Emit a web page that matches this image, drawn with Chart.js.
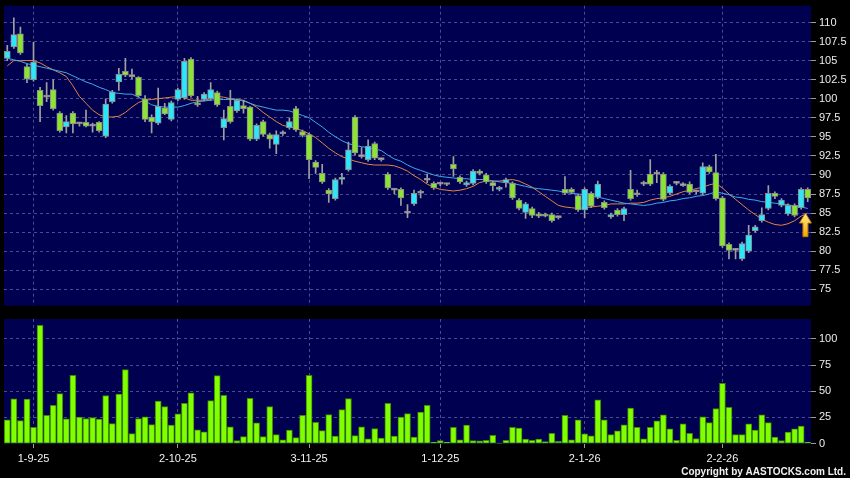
<!DOCTYPE html>
<html lang="en">
<head>
<meta charset="UTF-8">
<title>Candlestick chart</title>
<style>
  html, body { margin: 0; padding: 0; background: #000; }
  #wrap { position: relative; width: 850px; height: 478px; overflow: hidden; }
  #priceBox { position: absolute; left: 0; top: 0; width: 850px; height: 310px; }
  #volBox { position: absolute; left: 0; top: 310px; width: 850px; height: 168px; }
</style>
</head>
<body>
<div id="wrap">
  <div id="priceBox"><canvas id="priceCanvas" width="850" height="310"></canvas></div>
  <div id="volBox"><canvas id="volCanvas" width="850" height="168"></canvas></div>
</div>
<script src="https://cdn.jsdelivr.net/npm/chart.js@4.4.1/dist/chart.umd.min.js"></script>
<script>
// daily candles, oldest first
const opens = [105.3,106.8,108.5,104.2,102.5,101.1,100.3,101.2,98.1,96.3,
  98.1,96.75,96.9,96.45,96.9,95.1,99.6,102.2,103.6,102.95,
  102.8,100.0,97.6,96.8,98.8,97.3,99.9,100.1,105.2,99.4,
  99.9,100.0,100.8,96.2,99.0,98.4,99.1,98.9,94.7,97.0,
  95.3,94.0,95.45,96.2,98.7,95.7,95.3,91.7,90.2,88.0,
  86.9,89.4,90.7,97.6,92.45,92.0,94.1,92.05,90.1,88.05,
  88.1,85.05,86.2,87.65,89.35,88.9,88.85,88.8,91.4,89.7,
  88.7,88.9,90.5,90.0,89.0,88.1,89.0,88.9,86.7,85.1,
  85.6,84.9,84.8,84.8,84.45,88.1,88.1,87.3,85.4,87.6,
  87.1,86.4,84.5,85.4,84.8,88.1,87.45,88.8,90.1,90.15,
  90.1,87.6,88.95,88.6,88.8,87.85,87.6,91.1,90.3,87.0,
  80.9,80.15,79.0,80.0,82.7,84.0,85.6,87.6,86.0,84.9,
  86.0,85.7,88.1];
const closes = [106.2,108.4,106.0,102.6,104.8,99.1,100.2,98.7,95.8,97.0,
  96.7,96.7,96.4,96.4,95.8,99.3,100.9,103.2,103.1,102.9,
  100.4,97.3,97.0,99.0,98.0,99.5,101.2,104.9,100.4,99.2,
  100.6,101.2,99.2,97.4,97.0,99.8,98.7,94.7,96.5,95.3,
  94.7,95.3,95.4,97.0,95.9,95.2,92.0,91.0,89.1,87.5,
  89.4,89.7,93.3,92.9,92.4,93.8,92.2,92.0,88.3,88.0,
  87.0,85.0,87.6,87.6,89.3,88.3,88.8,88.75,90.8,89.1,
  89.0,90.5,90.2,89.1,88.6,88.3,89.4,87.0,85.6,86.2,
  84.7,84.6,84.6,84.0,84.4,87.6,87.7,85.4,88.1,85.9,
  88.8,85.7,84.8,84.8,85.6,86.9,87.4,88.9,88.8,90.1,
  86.8,88.5,88.9,88.7,87.7,87.8,91.1,90.4,86.9,80.7,
  80.1,80.1,81.0,82.1,83.2,84.8,87.6,87.2,86.7,86.0,
  84.7,88.1,87.0];
const highs = [107.0,110.6,109.4,104.5,107.4,101.5,102.1,102.5,98.3,97.8,
  98.3,96.9,98.5,96.8,97.0,100.0,101.1,104.0,105.3,103.9,
  102.9,100.4,97.9,101.4,99.4,99.7,101.4,105.3,105.4,100.3,
  100.8,102.1,101.0,98.5,101.1,100.0,99.8,99.0,96.7,97.2,
  95.5,95.8,95.8,97.5,99.0,95.9,95.5,91.9,91.4,88.2,
  89.6,90.2,94.3,97.8,93.6,94.6,94.3,92.2,90.3,88.2,
  88.3,86.1,88.0,88.0,90.1,89.1,89.0,88.9,92.4,89.9,
  89.2,90.7,90.7,90.2,89.2,88.5,89.6,89.1,86.9,86.4,
  85.8,85.1,85.0,85.0,84.6,89.8,88.3,87.5,88.3,87.8,
  89.2,86.6,85.0,85.6,85.8,90.6,88.0,89.2,92.0,90.6,
  90.3,88.7,89.1,89.0,89.1,88.0,91.6,91.3,92.7,87.2,
  81.1,80.3,81.2,83.4,83.4,85.7,88.6,87.8,86.9,86.2,
  86.2,88.3,88.3];
const lows = [105.0,106.6,105.8,102.1,102.3,97.0,99.6,98.5,95.6,95.5,
  95.5,96.4,96.3,95.6,95.6,94.9,99.4,101.1,102.9,102.6,
  100.2,97.0,95.5,96.6,97.9,97.1,99.7,99.9,100.2,99.0,
  99.7,99.8,99.0,94.6,96.8,98.2,98.1,94.5,94.5,95.1,
  93.5,92.8,95.2,96.0,95.7,95.0,89.5,90.2,88.9,86.4,
  86.7,88.8,90.5,92.6,92.2,91.8,92.0,91.8,88.1,87.5,
  86.0,84.4,86.0,87.0,89.0,88.1,88.6,88.6,89.8,88.9,
  88.5,88.7,90.0,88.9,87.9,87.9,88.4,86.8,85.4,84.3,
  84.4,84.4,84.5,83.8,84.2,87.4,87.5,85.2,84.4,85.7,
  86.9,85.5,84.3,84.6,84.0,86.7,87.2,88.6,88.6,89.0,
  86.6,87.4,88.7,88.5,87.5,87.5,87.4,90.2,86.7,80.5,
  79.0,79.0,78.8,79.8,82.5,83.8,85.4,86.9,85.8,84.7,
  84.5,85.5,86.5];
// moving averages
const ma10 = [104.3,105.0,105.0,105.0,105.0,104.7,104.2,103.8,103.4,102.9,
  101.7,100.3,99.4,98.5,97.9,97.6,97.6,97.7,98.2,98.9,
  99.5,99.8,99.9,100.0,100.1,100.2,100.3,100.1,99.8,99.8,
  99.8,100.0,100.3,100.2,100.0,99.9,99.8,99.4,98.9,98.2,
  97.6,97.0,96.5,96.3,96.1,95.8,95.4,94.9,94.2,93.5,
  92.9,92.4,92.1,91.8,91.6,91.4,91.3,91.3,91.3,91.2,
  90.9,90.5,89.9,89.4,88.8,88.4,88.1,88.0,87.9,88.0,
  88.2,88.5,89.0,89.2,89.2,89.2,89.3,89.4,89.2,88.8,
  88.4,87.8,87.2,86.6,86.0,85.8,85.7,85.6,85.7,85.8,
  85.9,86.0,86.2,86.2,86.2,86.3,86.3,86.4,86.7,86.9,
  87.0,87.2,87.5,87.8,88.0,88.2,88.4,88.7,88.9,88.3,
  87.5,86.8,86.1,85.4,84.8,84.2,83.8,83.5,83.4,83.6,
  84.0,84.6,85.0];
const ma20 = [105.3,105.1,104.9,104.6,104.4,104.2,104.0,103.8,103.6,103.4,
  103.0,102.6,102.2,101.9,101.5,101.2,100.8,100.7,100.6,100.6,
  100.2,99.7,99.2,99.0,98.9,98.9,98.9,99.1,99.4,99.6,
  99.7,99.8,99.9,99.9,99.9,99.9,99.7,99.4,99.1,98.9,
  98.7,98.5,98.5,98.4,98.1,97.8,97.5,96.9,96.3,95.6,
  95.0,94.5,94.1,93.9,93.7,93.6,93.4,93.2,92.6,92.1,
  91.8,91.3,90.9,90.6,90.3,90.0,89.8,89.7,89.6,89.5,
  89.5,89.4,89.4,89.4,89.2,89.1,89.0,88.9,88.7,88.5,
  88.3,88.2,88.1,88.0,87.9,87.7,87.6,87.5,87.4,87.2,
  87.1,86.9,86.7,86.5,86.3,86.2,86.1,86.0,86.1,86.3,
  86.4,86.6,86.7,86.9,87.0,87.2,87.3,87.5,87.8,87.6,
  87.4,87.1,87.0,86.8,86.7,86.5,86.4,86.3,86.2,86.1,
  85.9,85.8,85.6];
const volumes = [22.6,42.7,22.0,42.4,15.6,113,27.1,36.6,47.7,23.6,
  65.3,25.2,23.9,24.8,23.3,45.8,19.1,47.4,70.6,9.5,
  23.9,25.5,18.1,40.5,35.3,17.6,28.3,38.5,48.4,13.1,
  11.2,41.0,64.9,46.2,15.9,2.9,6.7,43.3,19.8,6.7,
  35.3,8.6,3.5,12.8,5.7,27.1,65.3,20.4,12.4,27.7,
  7.1,32.4,42.9,7.6,15.9,4.5,14.3,5.2,38.5,7.1,
  25.2,28.6,6.1,30.2,36.6,1.3,2.9,1.3,15.6,3.5,
  17.6,2.9,2.6,3.2,8.0,0.3,3.2,15.6,14.7,4.2,
  3.2,4.2,1.9,9.9,2.2,27.1,3.5,22.6,9.2,7.3,
  41.7,22.6,8.6,12.1,17.8,33.8,15.6,4.5,15.6,21.7,
  27.4,14.0,3.2,18.8,9.9,4.8,25.5,20.0,33.4,57.6,
  34.7,8.6,8.6,18.8,12.8,27.4,20.0,6.1,2.9,10.9,
  14.0,16.6,1.3];

const tickIdx = [4, 26, 46, 66, 88, 109];
const tickText = ['1-9-25', '2-10-25', '3-11-25', '1-12-25', '2-1-26', '2-2-26'];
const priceTicks = [75, 77.5, 80, 82.5, 85, 87.5, 90, 92.5, 95, 97.5, 100, 102.5, 105, 107.5, 110];
const volTicks = [0, 25, 50, 75, 100];
// the yellow marker sits between the last two days
const arrowAt = 121, arrowTip = 85.0, arrowBase = 81.9;

const idx = opens.map((_, i) => i);
const gridColor = 'rgba(125,125,185,0.6)';
const tickColor = '#9a9a9a';
const labelFont = { family: "'Liberation Sans', Arial, sans-serif", size: 11 };

function bodyFill(i) {
  const d = closes[i] - opens[i];
  if (Math.abs(d) < 0.15) return '#b4b4b4';
  return d > 0 ? '#2ee6fa' : '#8be433';
}
// keep the plot box where we put it: no extra room for edge labels
function noPad(s) {
  s.paddingTop = 0; s.paddingBottom = 0; s.paddingLeft = 0; s.paddingRight = 0;
}

const panelBg = {
  id: 'panelBg',
  beforeDraw(chart) {
    const { ctx, chartArea: a } = chart;
    ctx.save();
    ctx.fillStyle = '#000050';
    ctx.fillRect(a.left, a.top, a.right - a.left, a.bottom - a.top);
    ctx.restore();
  }
};

const arrowMark = {
  id: 'arrowMark',
  afterDatasetsDraw(chart) {
    const { ctx, scales } = chart;
    const x = (scales.x.getPixelForValue(arrowAt) + scales.x.getPixelForValue(arrowAt + 1)) / 2 + 1;
    const yTip = scales.y.getPixelForValue(arrowTip);
    const yEnd = scales.y.getPixelForValue(arrowBase);
    const head = 10, half = 6, shaft = 2.5;
    const g = ctx.createLinearGradient(0, yTip, 0, yEnd);
    g.addColorStop(0, '#fff08a');
    g.addColorStop(1, '#f0a800');
    ctx.save();
    ctx.beginPath();
    ctx.moveTo(x, yTip);
    ctx.lineTo(x + half, yTip + head);
    ctx.lineTo(x + shaft, yTip + head);
    ctx.lineTo(x + shaft, yEnd);
    ctx.lineTo(x - shaft, yEnd);
    ctx.lineTo(x - shaft, yTip + head);
    ctx.lineTo(x - half, yTip + head);
    ctx.closePath();
    ctx.fillStyle = g;
    ctx.fill();
    ctx.strokeStyle = '#c07800';
    ctx.lineWidth = 1;
    ctx.stroke();
    ctx.restore();
  }
};

const copyright = {
  id: 'copyright',
  afterDraw(chart) {
    const ctx = chart.ctx;
    ctx.save();
    ctx.font = "bold 10px 'Liberation Sans', Arial, sans-serif";
    ctx.fillStyle = '#f0f0f0';
    ctx.textAlign = 'right';
    ctx.textBaseline = 'alphabetic';
    ctx.fillText('Copyright by AASTOCKS.com Ltd.', 846, 165);
    ctx.restore();
  }
};

Chart.defaults.animation = false;
Chart.defaults.plugins.legend.display = false;
Chart.defaults.plugins.tooltip.enabled = false;

new Chart(document.getElementById('priceCanvas'), {
  type: 'bar',
  data: {
    labels: idx,
    datasets: [{
      type: 'line',
      label: 'MA10',
      data: ma10,
      borderColor: '#e5843f',
      borderWidth: 1,
      pointRadius: 0,
      fill: false,
      order: 4
    }, {
      type: 'line',
      label: 'MA20',
      data: ma20,
      borderColor: '#3fa9ec',
      borderWidth: 1,
      pointRadius: 0,
      fill: false,
      order: 3
    }, {
      label: 'wick',
      data: idx.map(i => [lows[i], highs[i]]),
      backgroundColor: '#a0a0a0',
      barThickness: 1,
      grouped: false,
      order: 2
    }, {
      label: 'body',
      data: idx.map(i => [opens[i], closes[i]]),
      backgroundColor: idx.map(bodyFill),
      borderColor: '#8c8c8c',
      borderWidth: 1,
      borderSkipped: false,
      barThickness: 6,
      minBarLength: 2,
      grouped: false,
      order: 1
    }]
  },
  options: {
    responsive: false,
    layout: { padding: { left: 4, top: 5.7, bottom: 4.3, right: 0 } },
    scales: {
      x: {
        offset: true,
        afterBuildTicks: s => { s.ticks = tickIdx.map(v => ({ value: v })); },
        afterFit: s => { s.height = 0; noPad(s); },
        ticks: { display: false },
        grid: { color: gridColor, drawTicks: false, offset: false },
        border: { display: false, dash: [3, 3] }
      },
      y: {
        position: 'right',
        min: 72.85,
        max: 112.2,
        afterBuildTicks: s => { s.ticks = priceTicks.map(v => ({ value: v })); },
        afterFit: s => { s.width = 39; noPad(s); },
        ticks: { color: '#ececec', font: labelFont, padding: 3 },
        grid: { color: gridColor, tickColor: tickColor, tickLength: 5 },
        border: { display: false, dash: [3, 3] }
      }
    }
  },
  plugins: [panelBg, arrowMark]
});

new Chart(document.getElementById('volCanvas'), {
  type: 'bar',
  data: {
    labels: idx,
    datasets: [{
      label: 'Volume',
      data: volumes,
      backgroundColor: '#80ff00',
      borderColor: '#3f8a00',
      borderWidth: 1,
      borderSkipped: false,
      barThickness: 6
    }]
  },
  options: {
    responsive: false,
    layout: { padding: { left: 4, top: 9, bottom: 0, right: 0 } },
    scales: {
      x: {
        offset: true,
        afterBuildTicks: s => { s.ticks = tickIdx.map(v => ({ value: v })); },
        afterFit: s => { s.height = 34; noPad(s); },
        ticks: {
          color: '#f2f2f2', font: labelFont, padding: 4, maxRotation: 0, autoSkip: false,
          callback: v => tickText[tickIdx.indexOf(v)]
        },
        grid: { color: gridColor, tickColor: tickColor, tickLength: 4, offset: false },
        border: { display: false, dash: [3, 3] }
      },
      y: {
        position: 'right',
        min: -0.4,
        max: 119,
        afterBuildTicks: s => { s.ticks = volTicks.map(v => ({ value: v })); },
        afterFit: s => { s.width = 39; noPad(s); },
        ticks: { color: '#ececec', font: labelFont, padding: 3 },
        grid: {
          color: c => (c.tick && c.tick.value === 0 ? 'transparent' : gridColor),
          tickColor: tickColor,
          tickLength: 5
        },
        border: { display: false, dash: [3, 3] }
      }
    }
  },
  plugins: [panelBg, copyright]
});
</script>
</body>
</html>
